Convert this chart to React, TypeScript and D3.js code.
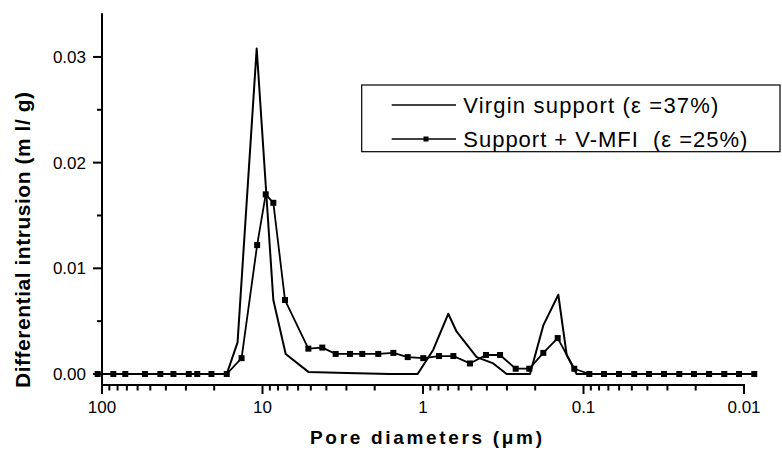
import React from "react";
import * as d3 from "d3";

// Pore diameters (µm) and differential intrusion (ml/g) for the two samples
const virginDiameters = [106.4, 16.7, 14.3, 10.87, 8.56, 7.17, 5.18, 2.99, 1.61, 1.08, 0.863, 0.696, 0.617, 0.463, 0.365, 0.301, 0.2154, 0.178, 0.1435, 0.1273, 0.1103, 0.00863];
const virginValues = [0, 0, 0.003, 0.0308, 0.007, 0.0019, 0.0002, 0.0001, 0, 0, 0.0023, 0.0057, 0.004, 0.0016, 0.001, 0, 0, 0.0046, 0.0075, 0.0018, 0, 0];

const mfiDiameters = [106.4, 85.0, 71.6, 54.0, 43.3, 35.9, 28.8, 25.5, 20.8, 16.7, 13.5, 10.8, 9.55, 8.56, 7.24, 5.18, 4.24, 3.5, 2.85, 2.39, 1.9, 1.53, 1.245, 0.996, 0.795, 0.647, 0.51, 0.405, 0.331, 0.2645, 0.2177, 0.178, 0.1448, 0.1141, 0.092, 0.0745, 0.0601, 0.0483, 0.0391, 0.0315, 0.0253, 0.0205, 0.0165, 0.01327, 0.01074, 0.00863];
const mfiValues = [0, 0, 0, 0, 0, 0, 0, 0, 0, 0, 0.0015, 0.0122, 0.017, 0.0162, 0.007, 0.0024, 0.0025, 0.0019, 0.0019, 0.0019, 0.0019, 0.002, 0.0016, 0.0015, 0.0017, 0.0017, 0.001, 0.0018, 0.0018, 0.0005, 0.0005, 0.002, 0.0034, 0.0005, 0, 0, 0, 0, 0, 0, 0, 0, 0, 0, 0, 0];

const xTickValues = [100, 10, 1, 0.1, 0.01];
const xTickLabels = ["100", "10", "1", "0.1", "0.01"];
const yTickValues = [0, 0.01, 0.02, 0.03];
const yTickLabels = ["0.00", "0.01", "0.02", "0.03"];
const yMinorTicks = [0.005, 0.015, 0.025];

const legendLabels = ["Virgin support (\u03b5 =37%)", "Support + V-MFI  (\u03b5 =25%)"];
const xTitle = "Pore diameters (\u03bcm)";
const yTitle = "Differential intrusion (m l/ g)";

const FONT = "Arial, 'Liberation Sans', Helvetica, sans-serif";

export default function App() {
  const x = d3.scaleLog().domain([100, 0.01]).range([102, 744]);
  const y = d3.scaleLinear().domain([-0.00104, 0.03413]).range([385, 13.3]);

  const line = d3
    .line<[number, number]>()
    .x((d) => x(d[0]))
    .y((d) => y(d[1]));

  const virgin: [number, number][] = virginDiameters.map((d, i) => [d, virginValues[i]]);
  const mfi: [number, number][] = mfiDiameters.map((d, i) => [d, mfiValues[i]]);

  // minor log ticks between 100 and 0.01
  const minorX: number[] = [];
  for (let e = -2; e < 2; e++) {
    for (let m = 2; m <= 9; m++) minorX.push(m * Math.pow(10, e));
  }

  const axisY = 385;
  const axisX = 102;
  const sq = 6;

  return (
    <svg
      width={782}
      height={454}
      style={{ position: "absolute", left: 0, top: 0, background: "#fff" }}
      fontFamily={FONT}
    >
      <rect x={0} y={0} width={782} height={454} fill="#fff" />

      {/* axes */}
      <line x1={axisX} x2={axisX} y1={13.3} y2={axisY} stroke="#000" strokeWidth={2} />
      <line x1={axisX - 1} x2={x(0.01) + 1} y1={axisY} y2={axisY} stroke="#000" strokeWidth={2} />

      {/* x ticks */}
      {xTickValues.map((v, i) => (
        <g key={"xt" + i}>
          <line x1={x(v)} x2={x(v)} y1={axisY} y2={axisY + 9} stroke="#000" strokeWidth={2} />
          <text x={x(v)} y={413} textAnchor="middle" fontSize={17} fill="#000">
            {xTickLabels[i]}
          </text>
        </g>
      ))}
      {minorX.map((v, i) => (
        <line key={"xm" + i} x1={x(v)} x2={x(v)} y1={axisY} y2={axisY + 5.5} stroke="#000" strokeWidth={2} />
      ))}

      {/* y ticks */}
      {yTickValues.map((v, i) => (
        <g key={"yt" + i}>
          <line x1={axisX - 9} x2={axisX} y1={y(v)} y2={y(v)} stroke="#000" strokeWidth={2} />
          <text x={86} y={y(v)} dy="0.36em" textAnchor="end" fontSize={17} fill="#000">
            {yTickLabels[i]}
          </text>
        </g>
      ))}
      {yMinorTicks.map((v, i) => (
        <line key={"ym" + i} x1={axisX - 5} x2={axisX} y1={y(v)} y2={y(v)} stroke="#000" strokeWidth={2} />
      ))}

      {/* axis titles */}
      <text
        x={426}
        y={443.5}
        textAnchor="middle"
        fontSize={19}
        fontWeight="bold"
        textLength={232}
        lengthAdjust="spacing"
      >
        {xTitle}
      </text>
      <text
        transform="translate(30,240) rotate(-90)"
        textAnchor="middle"
        fontSize={21}
        fontWeight="bold"
        textLength={296}
        lengthAdjust="spacing"
      >
        {yTitle}
      </text>

      {/* series */}
      <path d={line(virgin) || ""} fill="none" stroke="#000" strokeWidth={2} strokeLinejoin="round" />
      <path d={line(mfi) || ""} fill="none" stroke="#000" strokeWidth={1.8} strokeLinejoin="round" />
      {mfi.map((p, i) => (
        <rect key={"m" + i} x={x(p[0]) - sq / 2} y={y(p[1]) - sq / 2} width={sq} height={sq} fill="#000" />
      ))}

      {/* legend */}
      <rect x={361.7} y={85} width={418.3} height={66.7} fill="#fff" stroke="#000" strokeWidth={1.2} />
      <line x1={391.7} x2={456} y1={105} y2={105} stroke="#000" strokeWidth={1.5} />
      <text x={463.3} y={113} fontSize={22} textLength={255} lengthAdjust="spacing" style={{ whiteSpace: "pre" }}>
        {legendLabels[0]}
      </text>
      <line x1={391.7} x2={456} y1={139} y2={139} stroke="#000" strokeWidth={1.5} />
      <rect x={426 - 2.5} y={139 - 2.5} width={5} height={5} fill="#000" />
      <text x={463.3} y={147} fontSize={22} textLength={284} lengthAdjust="spacing" style={{ whiteSpace: "pre" }}>
        {legendLabels[1]}
      </text>
    </svg>
  );
}
